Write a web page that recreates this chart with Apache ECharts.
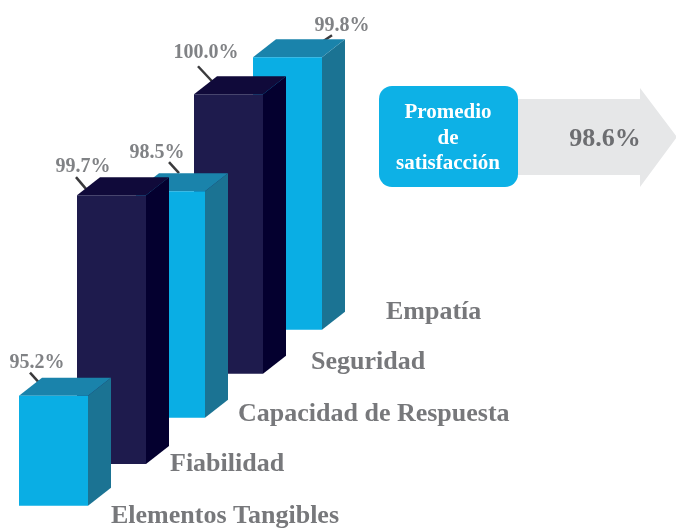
<!DOCTYPE html>
<html>
<head>
<meta charset="utf-8">
<style>html,body{margin:0;padding:0;background:#fff}#c{width:676px;height:529px}</style>
<script src="https://cdn.jsdelivr.net/npm/echarts@6/dist/echarts.min.js"></script>
</head>
<body>
<div id="c"></div>
<script>
const categories = ['Elementos Tangibles', 'Fiabilidad', 'Capacidad de Respuesta', 'Seguridad', 'Empatía'];
const values = [95.2, 99.7, 98.5, 100.0, 99.8];
const averageTitle = ['Promedio', 'de', 'satisfacción'];
const averageValue = 98.6;

// Layout only (pixels), not data
const FONT = '"Liberation Serif", serif';
const DEPTH_X = 23, DEPTH_Y = 18;
const baseShift = [0, 41.7, 88, 132, 176];
const palette = [
  { front: '#0aaee4', side: '#1b7393', top: '#1a83ab' },
  { front: '#1e1b4d', side: '#04002f', top: '#100a3a' }
];
const valueLabelAt = [[18, -33], [6, -28], [21, -38], [12, -41], [89, -31]];
const leaderAt = [[[11, -23], [20, -13]], [[-1, -18], [10, -5]], [[33, -29], [43, -18]], [[4, -28], [18, -13]], [[79, -22], [70, -16]]];
const categoryLabelAt = [[111, 516], [170, 464], [238, 414], [311, 362], [386, 312]];

const yMin = 92.084, yMax = 102;
const pxPerUnit = 35.3;
const gridBottom = 23.3;

const chart = echarts.init(document.getElementById('c'), null, { renderer: 'canvas' });

function renderBar(params, api) {
  const i = api.value(0), v = api.value(1);
  const shift = baseShift[i];
  const w = 69;
  const c = api.coord([i, v]);
  const b = api.coord([i, yMin]);
  const x = Math.floor(c[0] - w / 2), top = c[1] - shift, bottom = b[1] - shift;
  const col = palette[i % 2];
  const poly = (pts, fill) => ({ type: 'polygon', shape: { points: pts }, style: { fill: fill } });
  const la = leaderAt[i], va = valueLabelAt[i];
  return {
    type: 'group',
    children: [
      { type: 'line', shape: { x1: x + la[0][0], y1: top + la[0][1], x2: x + la[1][0], y2: top + la[1][1] },
        style: { stroke: '#3a3a3c', lineWidth: 2.5 } },
      poly([[x + w, top], [x + w + DEPTH_X, top - DEPTH_Y], [x + w + DEPTH_X, bottom - DEPTH_Y], [x + w, bottom]], col.side),
      poly([[x, top], [x + DEPTH_X, top - DEPTH_Y], [x + w + DEPTH_X, top - DEPTH_Y], [x + w, top]], col.top),
      { type: 'rect', shape: { x: x, y: top, width: w, height: bottom - top }, style: { fill: col.front } },
      { type: 'text', z2: 10, style: { x: x + va[0], y: top + va[1], text: values[i].toFixed(1) + '%',
        font: 'bold 20px ' + FONT, fill: '#808285', align: 'center', verticalAlign: 'middle' } },
      { type: 'text', z2: 10, style: { x: categoryLabelAt[i][0], y: categoryLabelAt[i][1], text: categories[i],
        font: 'bold 26px ' + FONT, fill: '#77787b', align: 'left', verticalAlign: 'middle' } }
    ]
  };
}

chart.setOption({
  animation: false,
  backgroundColor: '#fff',
  grid: { left: 24.25, width: 292.5, bottom: gridBottom, height: (yMax - yMin) * pxPerUnit },
  xAxis: { type: 'category', data: categories, show: false },
  yAxis: { type: 'value', min: yMin, max: yMax, show: false },
  series: [{
    type: 'custom',
    coordinateSystem: 'cartesian2d',
    clip: false,
    renderItem: renderBar,
    encode: { x: 0, y: 1 },
    data: categories.map((c, i) => [i, values[i]]).reverse()
  }],
  graphic: [
    { type: 'polygon', shape: { points: [[510, 99], [640, 99], [640, 88], [677, 137], [640, 187], [640, 175], [510, 175]] },
      style: { fill: '#e6e7e8' } },
    { type: 'rect', shape: { x: 379, y: 86, width: 139, height: 101, r: 13 }, style: { fill: '#0db1e6' } },
    ...averageTitle.map((t, k) => ({
      type: 'text',
      style: { x: 448, y: [113, 139, 164][k], text: t, font: 'bold 21px ' + FONT, fill: '#ffffff', align: 'center', verticalAlign: 'middle' }
    })),
    { type: 'text', style: { x: 605, y: 139, text: averageValue.toFixed(1) + '%', font: 'bold 26px ' + FONT, fill: '#6d6e71', align: 'center', verticalAlign: 'middle' } }
  ]
});
</script>
</body>
</html>
